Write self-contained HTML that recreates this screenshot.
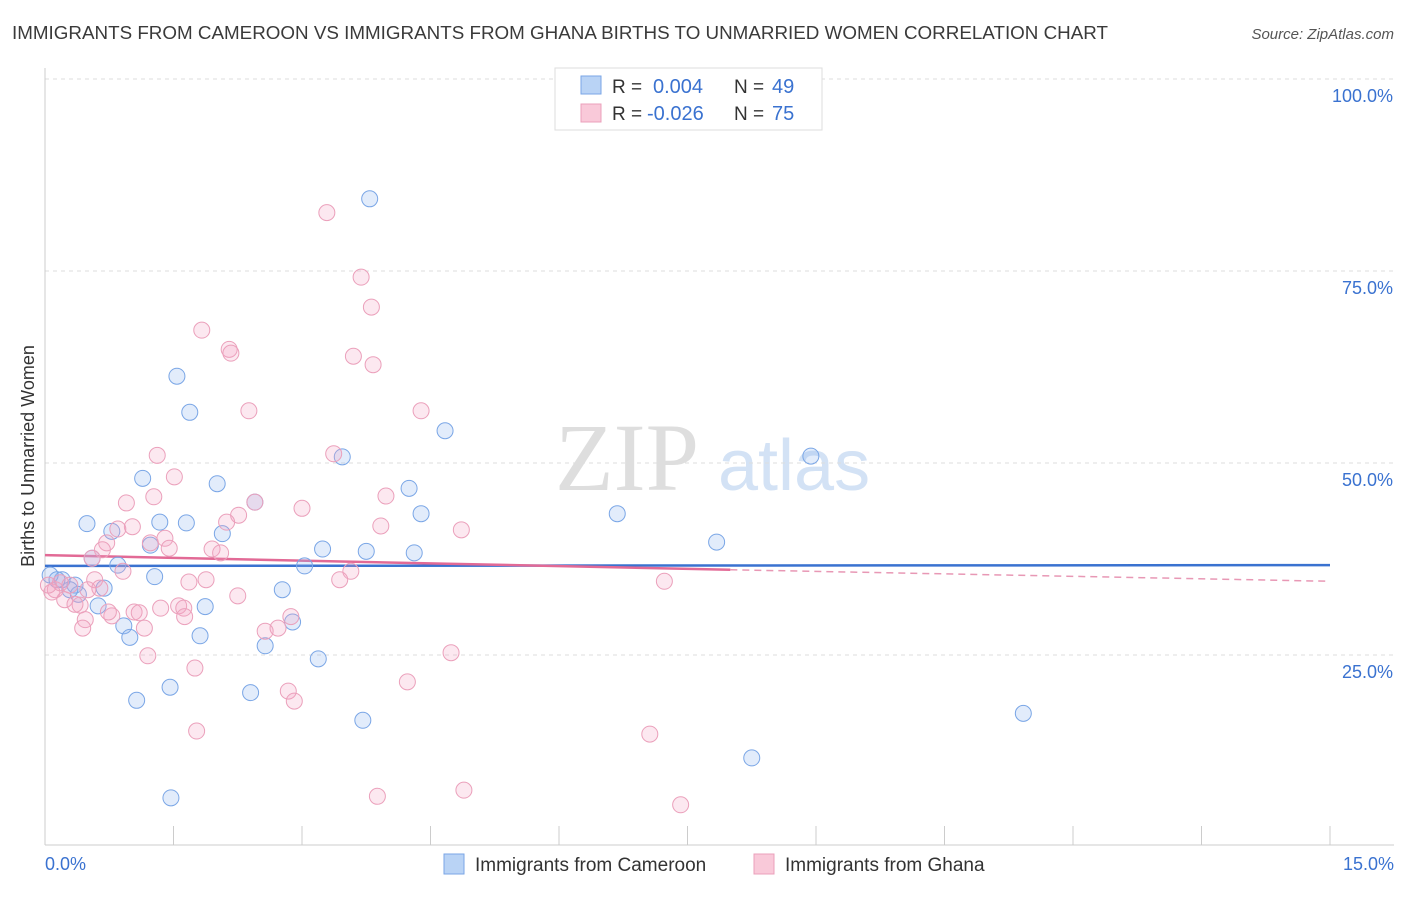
<!DOCTYPE html>
<html><head><meta charset="utf-8">
<style>
body{margin:0;background:#fff;font-family:"Liberation Sans",sans-serif;}
svg text{font-family:"Liberation Sans",sans-serif;}
</style></head>
<body>
<svg id="chart" width="1406" height="892" xmlns="http://www.w3.org/2000/svg">
<text x="12" y="39" font-size="18" fill="#3a3a3a" textLength="1096" lengthAdjust="spacingAndGlyphs">IMMIGRANTS FROM CAMEROON VS IMMIGRANTS FROM GHANA BIRTHS TO UNMARRIED WOMEN CORRELATION CHART</text>
<text x="1394" y="39" font-size="15" fill="#555" text-anchor="end" font-style="italic">Source: ZipAtlas.com</text>
<g>
<text x="555" y="490" font-size="96" fill="#dedede" style="font-family:'Liberation Serif',serif">ZIP</text>
<text x="718" y="490" font-size="72" fill="#d3e2f5">atlas</text>
</g>
<g id="grid"></g>
<g id="axes"></g>
<g id="trend"></g>
<g id="pts"></g>
<text transform="translate(34,456) rotate(-90)" font-size="18" fill="#333" text-anchor="middle">Births to Unmarried Women</text>
<g>
<rect x="555" y="68" width="267" height="62" fill="#fff" stroke="#ddd"/>
<rect x="581" y="76" width="20" height="18" fill="#b9d3f5" stroke="#7aa6e6"/>
<rect x="581" y="104" width="20" height="18" fill="#f9c9d9" stroke="#eba0bb"/>
<text x="612" y="93" font-size="19" fill="#333">R =</text>
<text x="653" y="93" font-size="20" fill="#3a72d0">0.004</text>
<text x="734" y="93" font-size="19" fill="#333">N =</text>
<text x="772" y="93" font-size="20" fill="#3a72d0">49</text>
<text x="612" y="120" font-size="19" fill="#333">R =</text>
<text x="647" y="120" font-size="20" fill="#3a72d0">-0.026</text>
<text x="734" y="120" font-size="19" fill="#333">N =</text>
<text x="772" y="120" font-size="20" fill="#3a72d0">75</text>
</g>
<g>
<rect x="444" y="854" width="20" height="20" fill="#b9d3f5" stroke="#7aa6e6"/>
<text x="475" y="871" font-size="19" fill="#333">Immigrants from Cameroon</text>
<rect x="754" y="854" width="20" height="20" fill="#f9c9d9" stroke="#eba0bb"/>
<text x="785" y="871" font-size="19" fill="#333">Immigrants from Ghana</text>
</g>
</svg>
<script>
const yTicks=[25,50,75,100];
const yTickLabels=["25.0%","50.0%","75.0%","100.0%"];
const xTickCount=10;
const xLabels=["0.0%","15.0%"];
const blueX=[3.79,1.54,1.69,4.67,3.47,8.94,1.14,2.01,2.45,4.25,4.39,0.49,1.34,1.65,2.07,0.78,1.23,3.24,3.75,4.31,6.68,7.84,0.55,0.85,1.28,3.03,2.77,0.20,0.35,0.69,0.39,0.62,1.87,0.92,0.99,1.81,2.89,2.57,3.19,1.46,2.40,1.07,3.71,11.42,8.25,1.47,0.06,0.14,0.29];
const blueY=[84.4,61.3,56.6,54.2,50.8,50.9,48.0,47.3,44.9,46.7,43.4,42.1,42.3,42.2,40.8,41.1,39.3,38.8,38.5,38.3,43.4,39.7,37.6,36.7,35.2,36.6,33.5,34.8,34.1,33.7,32.9,31.4,31.3,28.8,27.3,27.5,29.3,26.2,24.5,20.8,20.1,19.1,16.5,17.4,11.6,6.4,35.4,34.8,33.5];
const pinkX=[3.29,3.69,3.81,1.83,2.15,2.17,3.60,3.83,2.38,4.39,1.31,3.37,1.51,1.27,0.95,3.98,3.00,2.45,2.26,2.12,3.92,4.86,1.02,0.85,0.72,1.23,1.40,1.45,0.67,1.95,2.05,0.55,0.91,3.57,3.44,7.23,1.68,1.88,0.58,0.64,2.25,1.35,1.56,1.62,1.04,1.10,0.78,1.63,2.87,0.41,0.47,0.44,1.16,2.72,2.57,1.20,4.74,1.75,4.23,2.84,2.91,1.77,7.06,3.88,4.89,7.42,0.12,0.23,0.35,0.18,0.08,0.29,0.50,0.74,0.04];
const pinkY=[82.6,74.2,70.3,67.3,64.8,64.3,63.9,62.8,56.8,56.8,51.0,51.2,48.2,45.6,44.8,45.7,44.1,44.9,43.2,42.3,41.8,41.3,41.7,41.4,39.6,39.6,40.2,38.9,38.7,38.8,38.3,37.6,35.9,35.9,34.8,34.6,34.5,34.8,34.8,33.7,32.7,31.1,31.4,31.1,30.6,30.5,30.1,30.0,30.0,31.5,29.6,28.5,28.5,28.5,28.1,24.9,25.3,23.3,21.5,20.3,19.0,15.1,14.7,6.6,7.4,5.5,33.5,32.2,31.6,34.4,33.2,34.1,33.5,30.6,34.1];
const blueTrend=[36.6,36.7];
const pinkTrend=[38.0,36.1,34.6];
const pinkSolidEnd=8.0;

const NS="http://www.w3.org/2000/svg";
const X0=45,X1=1330,XMAX=15,Y0=847,PXPER=7.68;
const xs=v=>X0+(v/XMAX)*(X1-X0);
const ys=v=>Y0-v*PXPER;
function mk(tag,attrs,parent){const e=document.createElementNS(NS,tag);for(const k in attrs)e.setAttribute(k,attrs[k]);document.getElementById(parent).appendChild(e);return e;}

yTicks.forEach((t,i)=>{
 const l=mk('line',{x1:X0,x2:1394,y1:ys(t),y2:ys(t),stroke:'#ddd','stroke-dasharray':'4,4'},'grid');
 
 
 const tx=mk('text',{x:1393,y:ys(t)+23,'font-size':18,fill:'#3a72d0','text-anchor':'end'},'axes');
 tx.textContent=yTickLabels[i];
 
 
});
const ax=mk('line',{x1:X0,x2:1394,y1:845,y2:845,stroke:'#ccc'},'axes');


const ay=mk('line',{x1:X0,x2:X0,y1:68,y2:845,stroke:'#ccc'},'axes');


for(let i=1;i<=xTickCount;i++){
 const v=XMAX*i/xTickCount;
 const t=mk('line',{x1:xs(v),x2:xs(v),y1:826,y2:845,stroke:'#ccc'},'axes');
 
 
}
const xl0=mk('text',{x:45,y:870,'font-size':18,fill:'#3a72d0'},'axes');xl0.textContent=xLabels[0];


const xl1=mk('text',{x:1394,y:870,'font-size':18,fill:'#3a72d0','text-anchor':'end'},'axes');xl1.textContent=xLabels[1];



function dots(X,Y,fill,stroke,name){
 X.forEach((x,i)=>{
  const c=mk('circle',{cx:xs(x),cy:ys(Y[i]),r:8,fill:fill,stroke:stroke,'stroke-width':1},'pts');
  
  
 });
}
dots(blueX,blueY,'rgba(140,180,240,0.25)','#7aa6e6','cameroon-point');
dots(pinkX,pinkY,'rgba(245,165,195,0.25)','#eba0bb','ghana-point');

const bt=mk('line',{x1:xs(0),x2:xs(XMAX),y1:ys(blueTrend[0]),y2:ys(blueTrend[1]),stroke:'#3a72d0','stroke-width':2.5},'trend');


const pt=mk('line',{x1:xs(0),x2:xs(pinkSolidEnd),y1:ys(pinkTrend[0]),y2:ys(pinkTrend[1]),stroke:'#e26a96','stroke-width':2.5},'trend');


const pd=mk('line',{x1:xs(pinkSolidEnd),x2:xs(XMAX),y1:ys(pinkTrend[1]),y2:ys(pinkTrend[2]),stroke:'#e898b5','stroke-width':1.5,'stroke-dasharray':'7,5'},'trend');


</script>
</body></html>
